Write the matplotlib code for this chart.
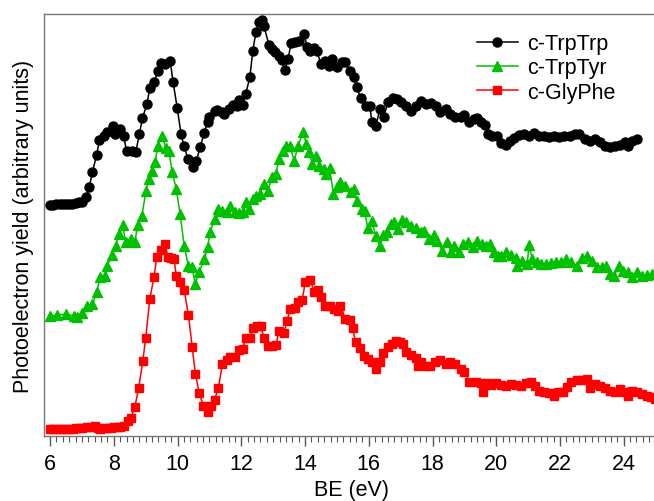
import matplotlib.pyplot as plt
from matplotlib.ticker import MultipleLocator

plt.rcParams['font.family'] = ['Liberation Sans', 'DejaVu Sans']

# c-TrpTrp (black circles): binding energy (eV), yield (arb. units)
trp_x = [6.0, 6.1, 6.2, 6.3, 6.4, 6.5, 6.6, 6.7, 6.8, 6.9, 7.01, 7.14, 7.23, 7.33,
         7.46, 7.55, 7.68, 7.8, 7.96, 8.05, 8.18, 8.31, 8.4, 8.56, 8.69, 8.8, 8.9,
         9.04, 9.13, 9.26, 9.39, 9.48, 9.6, 9.77, 9.86, 9.99, 10.11, 10.2, 10.33,
         10.49, 10.59, 10.71, 10.84, 10.94, 11.0, 11.16, 11.25, 11.38, 11.47, 11.6,
         11.73, 11.85, 11.92, 12.04, 12.14, 12.27, 12.36, 12.46, 12.55, 12.65, 12.71,
         12.87, 12.96, 13.06, 13.18, 13.28, 13.37, 13.47, 13.56, 13.69, 13.82, 13.97,
         14.07, 14.16, 14.28, 14.37, 14.5, 14.62, 14.74, 14.85, 15.0, 15.16, 15.27,
         15.4, 15.53, 15.62, 15.75, 15.9, 16.03, 16.1, 16.22, 16.35, 16.47, 16.6,
         16.76, 16.89, 17.01, 17.17, 17.33, 17.49, 17.65, 17.8, 17.96, 18.12, 18.25,
         18.41, 18.56, 18.72, 18.88, 19.0, 19.13, 19.29, 19.39, 19.51, 19.64, 19.73,
         19.86, 20.02, 20.15, 20.3, 20.43, 20.56, 20.72, 20.87, 21.03, 21.19, 21.35,
         21.5, 21.66, 21.82, 21.98, 22.14, 22.3, 22.46, 22.61, 22.77, 22.93, 23.09,
         23.25, 23.4, 23.56, 23.72, 23.88, 24.04, 24.13, 24.26, 24.42]
trp_y = [231, 231, 232, 232, 232, 232, 232, 232, 233, 234, 234, 239, 249, 264,
         281, 296, 300, 304, 310, 302, 307, 300, 285, 285, 284, 302, 318,
         332, 348, 354, 365, 373, 372, 375, 354, 328, 302, 290, 277,
         269, 275, 289, 303, 314, 319, 325, 326, 324, 322, 327,
         331, 330, 336, 331, 342, 359, 385, 404, 414, 416, 410,
         391, 387, 384, 380, 376, 366, 377, 393, 394, 395, 402,
         389, 385, 388, 385, 372, 375, 370, 377, 369, 374, 374,
         365, 359, 349, 338, 330, 330, 314, 310, 327, 319, 334,
         338, 337, 334, 330, 325, 330, 335, 332, 333, 330, 324,
         327, 322, 319, 319, 321, 314, 317, 318, 314, 311, 302,
         300, 300, 293, 291, 295, 298, 301, 302, 300, 303, 300,
         300, 299, 300, 299, 300, 300, 302, 302, 297, 295, 297,
         294, 290, 289, 290, 291, 294, 290, 295, 297]

# c-TrpTyr (green triangles)
tyr_x = [6.0, 6.22, 6.51, 6.76, 6.85, 7.01, 7.17, 7.33, 7.46, 7.58, 7.71, 7.8,
         7.93, 8.06, 8.15, 8.28, 8.37, 8.53, 8.66, 8.75, 8.88, 9.01, 9.1, 9.2,
         9.29, 9.39, 9.51, 9.64, 9.73, 9.83, 9.96, 10.08, 10.21, 10.34, 10.46,
         10.55, 10.68, 10.84, 10.94, 11.03, 11.16, 11.28, 11.41, 11.54, 11.66,
         11.79, 11.92, 12.04, 12.14, 12.23, 12.36, 12.46, 12.58, 12.71, 12.84,
         12.96, 13.09, 13.18, 13.31, 13.41, 13.53, 13.66, 13.78, 13.94, 14.04,
         14.13, 14.23, 14.35, 14.45, 14.58, 14.67, 14.77, 14.89, 14.99, 15.11,
         15.27, 15.43, 15.53, 15.62, 15.78, 15.87, 15.97, 16.09, 16.22, 16.35,
         16.44, 16.57, 16.7, 16.79, 16.92, 17.04, 17.17, 17.33, 17.49, 17.65,
         17.74, 17.9, 18.06, 18.15, 18.31, 18.47, 18.59, 18.69, 18.82, 18.97,
         19.1, 19.26, 19.39, 19.54, 19.67, 19.8, 19.92, 20.05, 20.15, 20.3,
         20.46, 20.62, 20.65, 20.81, 20.97, 21.03, 21.13, 21.28, 21.41, 21.57,
         21.73, 21.89, 22.04, 22.2, 22.36, 22.52, 22.68, 22.84, 22.99, 23.15,
         23.31, 23.44, 23.56, 23.69, 23.85, 23.97, 24.13, 24.26, 24.42, 24.58,
         24.73, 24.89, 25.03]
tyr_y = [120, 121, 122, 120, 119, 123, 130, 132, 144, 159, 160, 170,
         181, 190, 202, 211, 194, 197, 194, 211, 220, 245, 257, 265,
         274, 290, 300, 288, 285, 264, 247, 222, 190, 170, 169,
         152, 164, 177, 189, 204, 217, 227, 225, 224, 230,
         224, 223, 224, 234, 227, 237, 240, 242, 252, 245,
         259, 262, 277, 285, 290, 290, 275, 290, 304, 292,
         284, 272, 280, 270, 267, 262, 268, 242, 249, 254,
         250, 244, 247, 235, 227, 225, 208, 215, 200, 190,
         201, 204, 212, 214, 207, 216, 214, 210, 208, 204,
         205, 197, 201, 195, 185, 194, 184, 190, 184, 192,
         194, 189, 195, 192, 190, 192, 184, 180, 180, 184,
         181, 178, 170, 175, 172, 191, 177, 174, 172, 172,
         173, 174, 174, 177, 174, 170, 178, 180, 175, 169,
         169, 170, 162, 160, 170, 165, 164, 159, 164, 160,
         161, 162, 164]

# c-GlyPhe (red squares)
gly_x = [6.0, 6.1, 6.2, 6.32, 6.4, 6.5, 6.6, 6.73, 6.8, 6.9, 7.0, 7.17, 7.3,
         7.42, 7.5, 7.58, 7.7, 7.8, 7.9, 8.0, 8.12, 8.2, 8.31, 8.44, 8.53, 8.66,
         8.78, 8.91, 9.0, 9.13, 9.26, 9.35, 9.48, 9.61, 9.7, 9.8, 9.89, 9.96,
         10.08, 10.21, 10.34, 10.46, 10.56, 10.68, 10.81, 10.94, 11.06, 11.16,
         11.28, 11.41, 11.54, 11.66, 11.79, 11.92, 12.04, 12.14, 12.27, 12.36,
         12.49, 12.61, 12.71, 12.84, 12.96, 13.09, 13.18, 13.34, 13.44, 13.53,
         13.69, 13.78, 13.91, 14.01, 14.16, 14.29, 14.42, 14.51, 14.64, 14.77,
         14.92, 15.02, 15.11, 15.27, 15.4, 15.49, 15.59, 15.72, 15.84, 15.97,
         16.09, 16.22, 16.35, 16.44, 16.6, 16.73, 16.85, 16.98, 17.08, 17.17,
         17.33, 17.49, 17.55, 17.65, 17.8, 17.93, 18.09, 18.25, 18.41, 18.56,
         18.72, 18.88, 19.0, 19.16, 19.35, 19.51, 19.58, 19.7, 19.83, 19.99,
         20.15, 20.3, 20.46, 20.62, 20.78, 20.94, 21.09, 21.22, 21.35, 21.5,
         21.66, 21.82, 21.95, 22.08, 22.23, 22.36, 22.52, 22.68, 22.84, 22.93,
         23.09, 23.25, 23.4, 23.56, 23.72, 23.88, 24.0, 24.13, 24.26, 24.42,
         24.58, 24.73, 24.86, 24.99]
gly_y = [7, 7, 7, 7, 7, 7, 7, 7, 8, 8, 8, 9, 9,
         10, 8, 7, 8, 8, 8, 9, 9, 9, 10, 15, 18, 29,
         48, 75, 98, 137, 159, 179, 186, 192, 179, 178, 177, 160,
         154, 146, 121, 89, 62, 43, 30, 24, 30, 36,
         48, 72, 76, 79, 79, 86, 87, 98, 98, 108,
         110, 110, 98, 90, 90, 91, 105, 103, 115, 127,
         128, 134, 136, 154, 156, 144, 146, 139, 130, 130,
         127, 125, 130, 117, 116, 108, 94, 88, 80, 77,
         74, 67, 74, 83, 89, 92, 95, 94, 92, 84,
         81, 78, 70, 74, 70, 70, 74, 76, 72, 74,
         72, 67, 64, 54, 54, 53, 44, 53, 51, 53,
         51, 50, 52, 51, 50, 53, 54, 50, 45, 44,
         43, 40, 44, 44, 49, 54, 56, 56, 57, 48,
         52, 50, 48, 45, 44, 47, 44, 40, 45, 44,
         42, 40, 39, 37]

fig = plt.figure(figsize=(6.54, 5.02), dpi=100)
ax = fig.add_axes([0.0673, 0.1295, 0.94, 0.8406])

ax.plot(trp_x, trp_y, color='black', marker='o', markersize=6.5, lw=1.1, label='c-TrpTrp')
ax.plot(tyr_x, tyr_y, color='#00c000', marker='^', markersize=6.5, lw=1.1, label='c-TrpTyr')
ax.plot(gly_x, gly_y, color='#ff0000', marker='s', markersize=6, lw=1.1, label='c-GlyPhe')

ax.set_xlim(5.81, 25.1)
ax.set_ylim(0, 422)
ax.xaxis.set_major_locator(MultipleLocator(2))
ax.xaxis.set_minor_locator(MultipleLocator(0.2))
ax.tick_params(axis='x', which='major', length=7, width=1, labelsize=15.5, pad=5, color='#555555')
ax.tick_params(axis='x', which='minor', length=4, width=0.8, color='#555555')
ax.set_yticks([])
for s in ax.spines.values():
    s.set_color('#777777')
    s.set_linewidth(1)

ax.set_xlabel('BE (eV)', fontsize=15.5, labelpad=4)
ax.set_ylabel('Photoelectron yield (arbitrary units)', fontsize=15.5, labelpad=7)

ax.legend(loc='upper left', bbox_to_anchor=(0.69, 0.975), frameon=False, fontsize=15.5,
          handlelength=1.9, handletextpad=0.45, labelspacing=0.15, borderaxespad=0)

fig.savefig('out.png', dpi=100)
